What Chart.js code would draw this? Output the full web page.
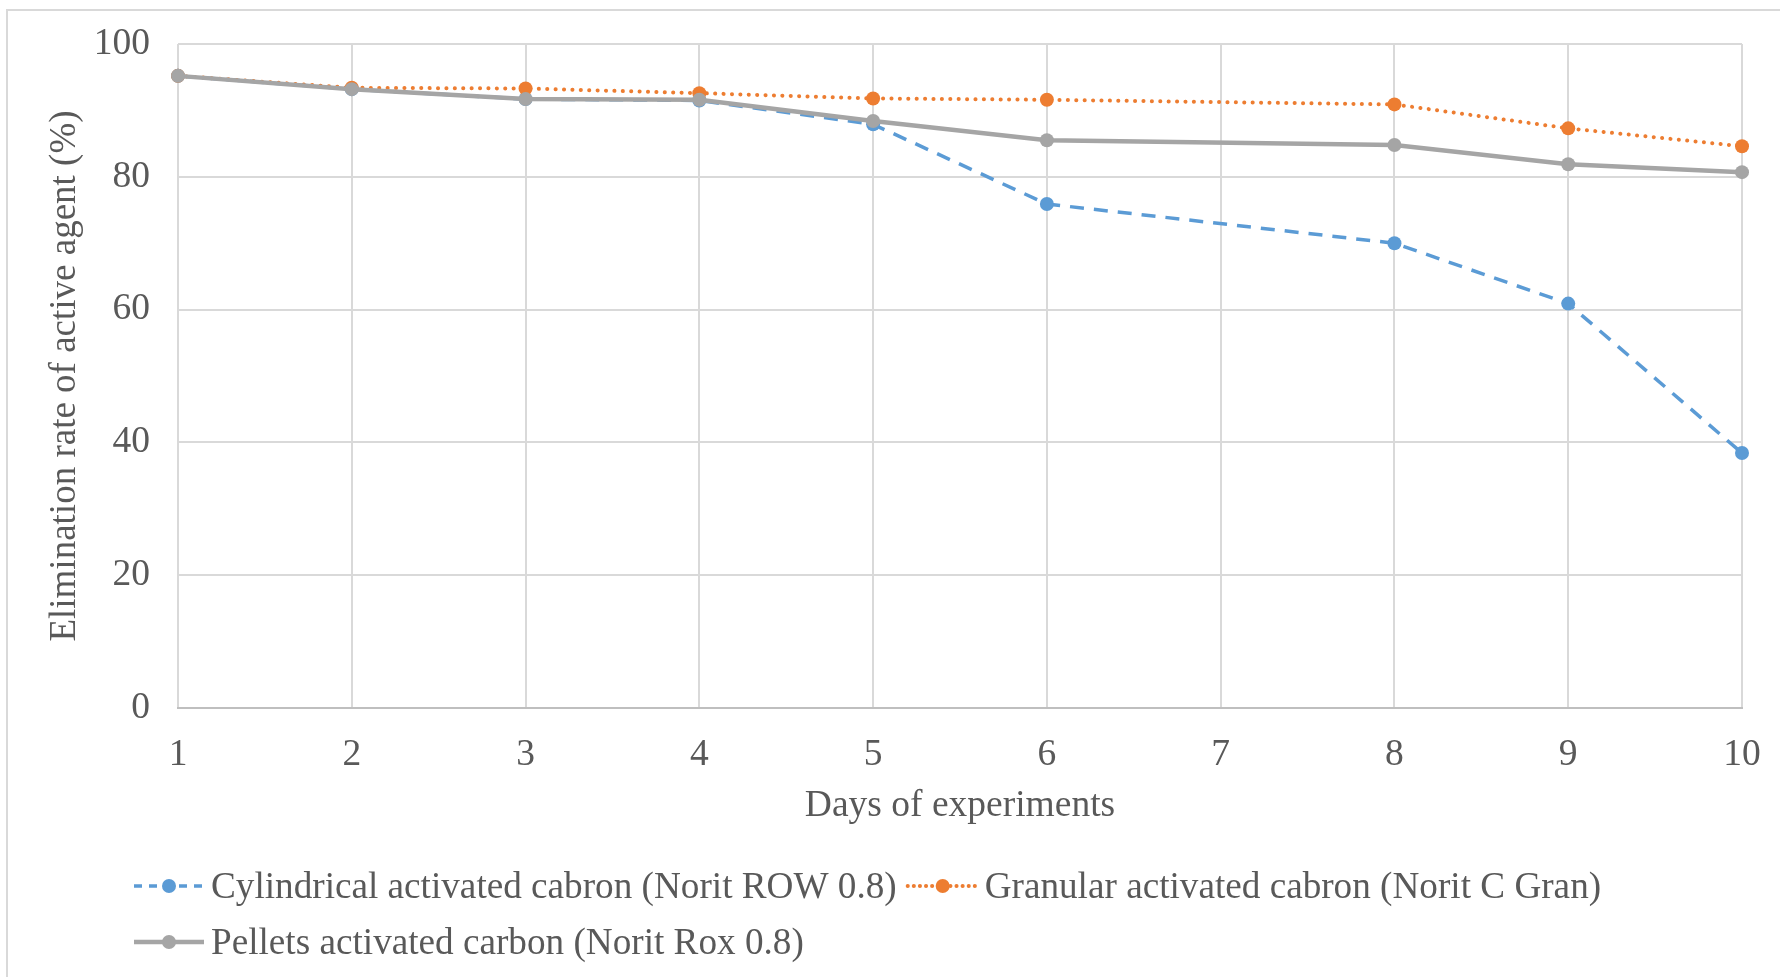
<!DOCTYPE html>
<html>
<head>
<meta charset="utf-8">
<script src="https://cdn.jsdelivr.net/npm/chart.js@4/dist/chart.umd.min.js"></script>
<style>
  html, body { margin: 0; padding: 0; background: #fff; }
  #wrap { width: 1780px; height: 977px; position: relative; }
</style>
</head>
<body>
<div id="wrap"><canvas id="myChart" width="1780" height="977"></canvas></div>
<script>
// days on the x axis (day 7 has no measurement)
var days = ["1", "2", "3", "4", "5", "6", "7", "8", "9", "10"];

var cylindrical = [95.2, 93.2, 91.7, 91.5, 87.9, 75.9, null, 70.0, 60.9, 38.4];
var granular = [95.2, 93.4, 93.3, 92.6, 91.8, 91.6, null, 90.9, 87.3, 84.6];
var pellets = [95.2, 93.2, 91.7, 91.6, 88.4, 85.5, null, 84.8, 81.9, 80.7];

var yTicks = [0, 20, 40, 60, 80, 100];

var seriesNames = [
  "Cylindrical activated cabron (Norit ROW 0.8)",
  "Granular activated cabron (Norit C Gran)",
  "Pellets activated carbon (Norit Rox 0.8)"
];

var textColor = "#595959";
var fontFamily = "'Liberation Serif', 'Times New Roman', serif";

// white background + the two visible frame edges
var framePlugin = {
  id: "frame",
  beforeDraw: function (chart) {
    var ctx = chart.ctx;
    ctx.save();
    ctx.fillStyle = "#fff";
    ctx.fillRect(0, 0, chart.width, chart.height);
    ctx.strokeStyle = "#d9d9d9";
    ctx.lineWidth = 2;
    ctx.beginPath();
    ctx.moveTo(7, chart.height);
    ctx.lineTo(7, 10);
    ctx.lineTo(chart.width, 10);
    ctx.stroke();
    ctx.restore();
  }
};

// legend like the office one: line sample with marker, then the label
var legendPlugin = {
  id: "officeLegend",
  afterDraw: function (chart) {
    var ctx = chart.ctx;
    var fontSize = 37.2;
    var rows = [[0, 1], [2]];
    var rowY = [886, 942];
    ctx.save();
    ctx.font = fontSize + "px " + fontFamily;
    ctx.textBaseline = "middle";
    rows.forEach(function (row, r) {
      var x = 134;
      var y = rowY[r];
      row.forEach(function (i) {
        var ds = chart.data.datasets[i];
        ctx.strokeStyle = ds.borderColor;
        ctx.lineWidth = ds.borderWidth;
        ctx.lineCap = ds.borderCapStyle || "butt";
        ctx.setLineDash(ds.legendDash || []);
        ctx.beginPath();
        ctx.moveTo(x, y);
        ctx.lineTo(x + 70, y);
        ctx.stroke();
        ctx.setLineDash([]);
        ctx.fillStyle = ds.pointBackgroundColor;
        ctx.beginPath();
        ctx.arc(x + 35, y, 7, 0, Math.PI * 2);
        ctx.fill();
        ctx.fillStyle = textColor;
        ctx.fillText(ds.label, x + 77, y + 2);
        x += 77 + ctx.measureText(ds.label).width + 11;
      });
    });
    ctx.restore();
  }
};

var ctx = document.getElementById("myChart").getContext("2d");
var chart = new Chart(ctx, {
  type: "line",
  data: {
    labels: days,
    datasets: [
      {
        label: seriesNames[0],
        data: cylindrical,
        borderColor: "#5b9bd5",
        backgroundColor: "#5b9bd5",
        pointBackgroundColor: "#5b9bd5",
        borderWidth: 3.5,
        borderDash: [14, 10],
        legendDash: [8, 7],
        pointRadius: 7,
        pointBorderWidth: 0,
        order: 3
      },
      {
        label: seriesNames[1],
        data: granular,
        borderColor: "#ed7d31",
        backgroundColor: "#ed7d31",
        pointBackgroundColor: "#ed7d31",
        borderWidth: 4,
        borderDash: [0.1, 8.3],
        borderCapStyle: "round",
        legendDash: [0.1, 6],
        pointRadius: 7,
        pointBorderWidth: 0,
        order: 2
      },
      {
        label: seriesNames[2],
        data: pellets,
        borderColor: "#a5a5a5",
        backgroundColor: "#a5a5a5",
        pointBackgroundColor: "#a5a5a5",
        borderWidth: 4.5,
        pointRadius: 7,
        pointBorderWidth: 0,
        order: 1
      }
    ]
  },
  options: {
    responsive: false,
    animation: false,
    spanGaps: true,
    layout: { padding: { left: 8, top: 44, right: 38, bottom: 148 } },
    plugins: {
      legend: { display: false },
      tooltip: { enabled: false }
    },
    elements: { line: { tension: 0 } },
    scales: {
      x: {
        offset: false,
        grid: { color: "#d9d9d9", lineWidth: 2, drawTicks: false },
        border: { color: "#bfbfbf", width: 2 },
        ticks: {
          color: textColor,
          padding: 25,
          maxRotation: 0,
          font: { family: fontFamily, size: 37.5 }
        },
        title: {
          display: true,
          text: "Days of experiments",
          color: textColor,
          padding: { top: 0, bottom: 0 },
          font: { family: fontFamily, size: 37.5 }
        },
        afterFit: function (axis) {
          axis.height = 121;
          axis.paddingLeft = 0;
          axis.paddingRight = 0;
        }
      },
      y: {
        min: 0,
        max: 100,
        afterBuildTicks: function (axis) {
          axis.ticks = yTicks.map(function (v) { return { value: v }; });
        },
        grid: { color: "#d9d9d9", lineWidth: 2, drawTicks: false },
        border: { display: false },
        ticks: {
          color: textColor,
          padding: 28,
          font: { family: fontFamily, size: 37.5 }
        },
        title: {
          display: true,
          text: "Elimination rate of active agent (%)",
          color: textColor,
          padding: { top: 35, bottom: 0 },
          font: { family: fontFamily, size: 37 }
        },
        afterFit: function (axis) {
          axis.width = 170;
          axis.paddingTop = 0;
          axis.paddingBottom = 0;
        }
      }
    }
  },
  plugins: [framePlugin, legendPlugin]
});
</script>
</body>
</html>
